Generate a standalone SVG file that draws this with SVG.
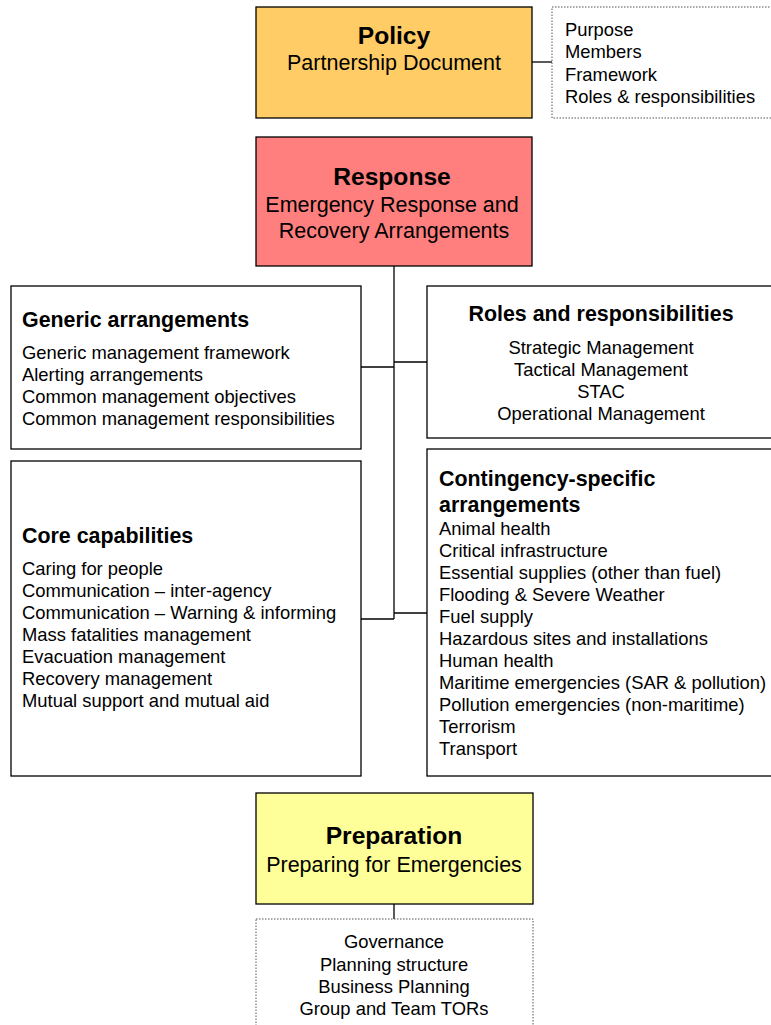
<svg xmlns="http://www.w3.org/2000/svg" width="771" height="1025" viewBox="0 0 771 1025">
<style>
text{font-family:"Liberation Sans",Arial,sans-serif;fill:#000}
.box{stroke:#000;stroke-width:1.3}
.dot{fill:#fff;stroke:#555;stroke-width:1;stroke-dasharray:1.5 1.5}
.h1{font-size:24.6px;font-weight:bold}
.h2{font-size:21.5px}
.t{font-size:18.4px}
.hb{font-size:21.4px;font-weight:bold}
.c{text-anchor:middle}
.con{stroke:#000;stroke-width:1.3;fill:none}
</style>
<rect width="771" height="1025" fill="#fff"/>
<g id="connectors">
<line class="con" x1="532" y1="62" x2="552" y2="62"/>
<line class="con" x1="394" y1="266" x2="394" y2="619"/>
<line class="con" x1="361" y1="367" x2="394" y2="367"/>
<line class="con" x1="394" y1="362" x2="427" y2="362"/>
<line class="con" x1="361" y1="619" x2="394" y2="619"/>
<line class="con" x1="394" y1="613" x2="427" y2="613"/>
<line class="con" x1="394" y1="904" x2="394" y2="919"/>
</g>
<g id="policy">
<rect class="box" x="256" y="7" width="276" height="111" fill="#FFCC66"/>
<text class="h1 c" x="394" y="44">Policy</text>
<text class="h2 c" x="394" y="70">Partnership Document</text>
</g>
<g id="policy-details">
<rect class="dot" x="552" y="7" width="225" height="111"/>
<text class="t" x="565" y="36">Purpose</text>
<text class="t" x="565" y="58">Members</text>
<text class="t" x="565" y="81">Framework</text>
<text class="t" x="565" y="103">Roles &amp; responsibilities</text>
</g>
<g id="response">
<rect class="box" x="256" y="137" width="276" height="129" fill="#FF7F7F"/>
<text class="h1 c" x="392" y="185">Response</text>
<text class="h2 c" x="392" y="212">Emergency Response and</text>
<text class="h2 c" x="394" y="238">Recovery Arrangements</text>
</g>
<g id="generic">
<rect class="box" x="11" y="286" width="350" height="163" fill="#fff"/>
<text class="hb" x="22" y="327">Generic arrangements</text>
<text class="t" x="22" y="359">Generic  management framework</text>
<text class="t" x="22" y="381">Alerting arrangements</text>
<text class="t" x="22" y="403">Common management objectives</text>
<text class="t" x="22" y="425">Common management responsibilities</text>
</g>
<g id="roles">
<rect class="box" x="427" y="286" width="350" height="152" fill="#fff"/>
<text class="hb c" x="601" y="321">Roles and responsibilities</text>
<text class="t c" x="601" y="354">Strategic Management</text>
<text class="t c" x="601" y="376">Tactical Management</text>
<text class="t c" x="601" y="398">STAC</text>
<text class="t c" x="601" y="420">Operational Management</text>
</g>
<g id="core">
<rect class="box" x="11" y="461" width="350" height="315" fill="#fff"/>
<text class="hb" x="22" y="543">Core capabilities</text>
<text class="t" x="22" y="575">Caring for people</text>
<text class="t" x="22" y="597">Communication – inter-agency</text>
<text class="t" x="22" y="619">Communication – Warning &amp; informing</text>
<text class="t" x="22" y="641">Mass fatalities management</text>
<text class="t" x="22" y="663">Evacuation management</text>
<text class="t" x="22" y="685">Recovery management</text>
<text class="t" x="22" y="707">Mutual support and mutual aid</text>
</g>
<g id="contingency">
<rect class="box" x="427" y="449" width="350" height="327" fill="#fff"/>
<text class="hb" x="439" y="486">Contingency-specific</text>
<text class="hb" x="439" y="512">arrangements</text>
<text class="t" x="439" y="535">Animal health</text>
<text class="t" x="439" y="557">Critical infrastructure</text>
<text class="t" x="439" y="579">Essential supplies (other than fuel)</text>
<text class="t" x="439" y="601">Flooding &amp; Severe Weather</text>
<text class="t" x="439" y="623">Fuel supply</text>
<text class="t" x="439" y="645">Hazardous sites and installations</text>
<text class="t" x="439" y="667">Human health</text>
<text class="t" x="439" y="689">Maritime emergencies (SAR &amp; pollution)</text>
<text class="t" x="439" y="711">Pollution emergencies (non-maritime)</text>
<text class="t" x="439" y="733">Terrorism</text>
<text class="t" x="439" y="755">Transport</text>
</g>
<g id="preparation">
<rect class="box" x="256" y="793" width="277" height="111" fill="#FFFF99"/>
<text class="h1 c" x="394" y="844">Preparation</text>
<text class="h2 c" x="394" y="872">Preparing for Emergencies</text>
</g>
<g id="preparation-details">
<rect class="dot" x="256" y="919" width="277" height="120"/>
<text class="t c" x="394" y="948">Governance</text>
<text class="t c" x="394" y="971">Planning structure</text>
<text class="t c" x="394" y="993">Business Planning</text>
<text class="t c" x="394" y="1015">Group and Team TORs</text>
</g>
</svg>
